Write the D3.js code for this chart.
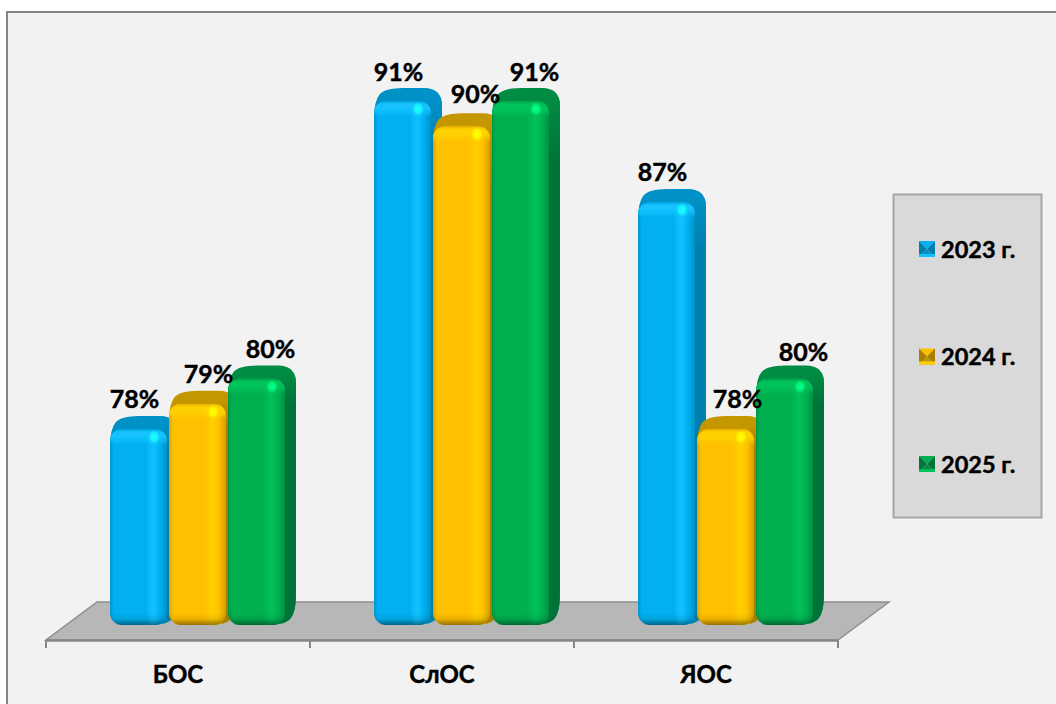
<!DOCTYPE html>
<html><head><meta charset="utf-8">
<style>html,body{margin:0;padding:0;background:#fff}svg{display:block}text{font-family:Lato,"Open Sans","Noto Sans",sans-serif;font-weight:700;fill:#000;stroke:#000;stroke-width:.45px}</style>
<script src="https://cdn.jsdelivr.net/npm/d3@7/dist/d3.min.js"></script>
</head><body><svg id="c" width="1056" height="704"></svg>
<script>
const categories = ["БОС","СлОС","ЯОС"];
const seriesNames = ["2023 г.","2024 г.","2025 г."];
const values2023 = [78,91,87];
const values2024 = [79,90,78];
const values2025 = [80,91,80];
const seriesValues = [values2023,values2024,values2025];
const baseColors = ["#00B0F0","#FFC000","#00B050"];
const lightColors = ["#12C2FF","#FFD000","#00C25A"];
const topColors = ["#0091C6","#C49600","#008C42"];
const sideColors = ["#007FAE","#A87F00","#00733A"];

const svg = d3.select("#c");
const defs = svg.append("defs");
defs.append("filter").attr("id","soft").attr("x","-5%").attr("y","-5%").attr("width","110%").attr("height","110%")
  .append("feGaussianBlur").attr("stdDeviation",.7);
svg.append("rect").attr("x",7).attr("y",12).attr("width",1060).attr("height",700)
  .attr("fill","#f2f2f2").attr("stroke","#858585").attr("stroke-width",2);

const x0 = d3.scaleBand().domain(categories).range([46,838]);
const x1 = d3.scaleBand().domain(seriesNames).range([64,241]);
const y = d3.scaleLinear().domain([78,91]).range([429,101]);
const baseY = 625, faceW = 57, depthX = 11, depthY = 13, r = 18;

// floor
const axisY = 640, floorBack = 602, floorShift = 51;
const floorPts = [[46,axisY],[838,axisY],[838+floorShift,floorBack],[46+floorShift,floorBack]];
svg.append("polygon").attr("points",floorPts.join(" ")).attr("fill","#b7b7b7")
  .attr("stroke","#8f8f8f").attr("stroke-width",1.5);
const axisG = svg.append("g").attr("transform",`translate(0,${axisY})`);
axisG.call(d3.axisBottom(x0).tickSize(0).tickPadding(26));
axisG.select(".domain").attr("stroke","#868686").attr("stroke-width",2.5);
axisG.selectAll("text").attr("font-size",24).attr("dy",".71em").style("font-family",null);
axisG.selectAll(".edge").data(d3.range(categories.length+1)).enter().append("line").attr("class","edge")
  .attr("x1",i=>46+i*x0.step()).attr("x2",i=>46+i*x0.step()).attr("y1",0).attr("y2",8)
  .attr("stroke","#868686").attr("stroke-width",2);

function roundPoly(pts,rad){
  const n=pts.length;let s="";
  for(let i=0;i<n;i++){
    const p=pts[i],a=pts[(i+n-1)%n],b=pts[(i+1)%n];
    const la=Math.hypot(a[0]-p[0],a[1]-p[1]),lb=Math.hypot(b[0]-p[0],b[1]-p[1]);
    const ra=Math.min(rad,la/2),rb=Math.min(rad,lb/2);
    const s1=[p[0]+(a[0]-p[0])*ra/la,p[1]+(a[1]-p[1])*ra/la];
    const e1=[p[0]+(b[0]-p[0])*rb/lb,p[1]+(b[1]-p[1])*rb/lb];
    s+=(i?"L":"M")+s1[0]+","+s1[1]+"Q"+p[0]+","+p[1]+" "+e1[0]+","+e1[1];
  }
  return s+"Z";
}
function grad(id,dir,stops){
  const g=defs.append("linearGradient").attr("id",id).attr("x1",0).attr("y1",0)
    .attr("x2",dir==="h"?1:0).attr("y2",dir==="h"?0:1);
  stops.forEach(s=>g.append("stop").attr("offset",s[0]).attr("stop-color",s[1]).attr("stop-opacity",s[2]===undefined?1:s[2]));
}
baseColors.forEach((c,i)=>{
  grad("face"+i,"h",[[0,d3.color(c).darker(.45)],[.07,c],[.62,c],[.76,lightColors[i]],[.88,c],[1,d3.color(c).darker(.55)]]);
  grad("topb"+i,"v",[[0,d3.color(c).darker(.25)],[.2,lightColors[i]],[.5,lightColors[i]],[1,lightColors[i],0]]);
  grad("botb"+i,"v",[[0,"#000",0],[.5,"#000",.08],[1,"#000",.42]]);
  grad("side"+i,"v",[[0,topColors[i]],[.12,sideColors[i]],[1,sideColors[i]]]);
  const sg=defs.append("radialGradient").attr("id","spot"+i);
  sg.append("stop").attr("offset",0).attr("stop-color",d3.color(lightColors[i]).brighter(1.6));
  sg.append("stop").attr("offset",.5).attr("stop-color",d3.color(lightColors[i]).brighter(.8)).attr("stop-opacity",.8);
  sg.append("stop").attr("offset",1).attr("stop-color",lightColors[i]).attr("stop-opacity",0);
});

categories.forEach((cat,ci)=>{
  seriesNames.forEach((sn,si)=>{
    const v=seriesValues[si][ci];
    const X=x0(cat)+x1(sn), T=y(v), R=X+faceW;
    const g=svg.append("g").attr("filter","url(#soft)");
    const outline=roundPoly([[X,baseY],[X,T],[X+depthX,T-depthY],[R+depthX,T-depthY],[R+depthX,baseY-depthY],[R,baseY]],r);
    const cid=`clip${ci}${si}`;
    defs.append("clipPath").attr("id",cid).append("path").attr("d",outline);
    g.append("path").attr("d",outline).attr("fill",topColors[si]);
    g.append("rect").attr("clip-path",`url(#${cid})`).attr("x",R-4).attr("y",T-4).attr("width",depthX+6).attr("height",baseY-T+4)
      .attr("fill",`url(#side${si})`);
    const fg=g.append("g");
    const fid=`fclip${ci}${si}`;
    defs.append("clipPath").attr("id",fid).append("rect").attr("x",X).attr("y",T).attr("width",faceW).attr("height",baseY-T).attr("rx",12).attr("ry",12);
    fg.attr("clip-path",`url(#${fid})`);
    fg.append("rect").attr("x",X).attr("y",T).attr("width",faceW).attr("height",baseY-T).attr("fill",`url(#face${si})`);
    fg.append("rect").attr("x",X).attr("y",T).attr("width",faceW).attr("height",16).attr("fill",`url(#topb${si})`);
    fg.append("rect").attr("x",X).attr("y",baseY-12).attr("width",faceW).attr("height",12).attr("fill",`url(#botb${si})`);
    g.append("ellipse").attr("cx",X+44).attr("cy",T+8).attr("rx",7).attr("ry",8).attr("fill",`url(#spot${si})`);
  });
});

// value labels: shifted like the source's manually placed data labels
const labelShiftX = [[-4,-4,-4],[11,14,12],[14,14,19]];
const labelShiftY = [[0,1,0],[0,-2,0],[0,1,3]];
categories.forEach((cat,ci)=>{
  seriesNames.forEach((sn,si)=>{
    const v=seriesValues[si][ci];
    svg.append("text").attr("x",x0(cat)+x1(sn)+faceW/2+labelShiftX[si][ci]).attr("y",y(v)-21+labelShiftY[si][ci])
      .attr("text-anchor","middle").attr("font-size",25).text(v+"%");
  });
});

// legend
svg.append("rect").attr("x",893.5).attr("y",194.5).attr("width",148).attr("height",323)
  .attr("fill","#d9d9d9").attr("stroke","#a6a6a6").attr("stroke-width",2);
const ly=d3.scalePoint().domain(seriesNames).range([249,464]);
seriesNames.forEach((sn,si)=>{
  const cy=ly(sn),x=919,s=16,y0=cy-8;
  const g=svg.append("g");
  const tri=(pts,f)=>g.append("polygon").attr("points",pts.join(" ")).attr("fill",f);
  const c=[x+s/2,y0+s/2];
  tri([[x,y0],[x+s,y0],c],baseColors[si]);
  tri([[x,y0+s],[x+s,y0+s],c],topColors[si]);
  tri([[x,y0],[x,y0+s],c],sideColors[si]);
  tri([[x+s,y0],[x+s,y0+s],c],sideColors[si]);
  g.append("rect").attr("x",x).attr("y",y0+s-3).attr("width",s).attr("height",3).attr("fill",lightColors[si]);
  svg.append("text").attr("x",941).attr("y",cy+8.5).attr("font-size",23.5).text(sn);
});
</script></body></html>
